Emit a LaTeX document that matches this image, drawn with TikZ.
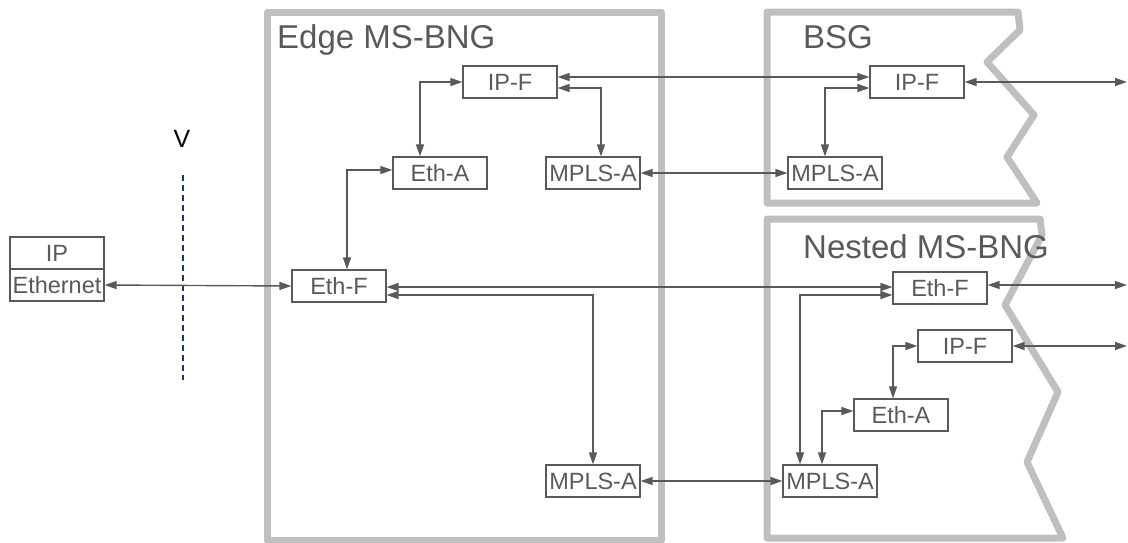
\documentclass[tikz,border=0pt]{standalone}
\usepackage{fontspec}
\setmainfont{Liberation Sans}
\usetikzlibrary{arrows.meta, calc}
\definecolor{textgray}{RGB}{89,89,89}
\definecolor{zonegray}{RGB}{191,191,191}
\definecolor{vlineblue}{RGB}{31,56,100}

\begin{document}
\begin{tikzpicture}[x=1pt, y=-1pt,
  block/.style={draw=textgray, line width=1.2pt, text=textgray, minimum width=94pt,
    minimum height=32pt, inner sep=0pt, font=\fontsize{23.5}{28}\selectfont},
  link/.style={textgray, line width=1.4pt,
    {Triangle[length=12pt,width=8pt]}-{Triangle[length=12pt,width=8pt]}},
  zonebox/.style={zonegray, line width=7pt, line join=round},
  zonetitle/.style={anchor=base west, inner sep=0pt, text=textgray,
    font=\fontsize{33}{39}\selectfont}]
  \useasboundingbox (0,0) rectangle (1128,542);

  % Rahmen der Bereiche
  \draw[zonebox] (267,12) rectangle (661,540);
  \draw[zonebox] (767,12) -- (1018,12) -- (1020,30) -- (987,62) -- (1034,115)
    -- (1007,157) -- (1037,203) -- (767,203) -- cycle;
  \draw[zonebox] (767,219) -- (1040,219) -- (1042,235) -- (1005,305) -- (1058,392)
    -- (1027,462) -- (1063,538) -- (767,538) -- cycle;

  % Titel
  \node[zonetitle] (edgetitle) at (277,48) {Edge MS-BNG};
  \node[zonetitle] (bsgtitle) at (803,48) {BSG};
  \node[zonetitle] (nestedtitle) at (803,258) {Nested MS-BNG};

  % Schnittstelle V
  \node[anchor=base, inner sep=0pt, font=\fontsize{25}{30}\selectfont] (vlabel) at (182,147) {V};
  \coordinate (vtop) at (183,175);
  \coordinate (vbot) at (183,380);
  \draw[vlineblue, line width=1.4pt, dash pattern=on 6pt off 4pt] (vtop) -- (vbot);

  % Endgeraet
  \node[block] (ip) at (57,253) {IP};
  \node[block] (eth) at (57,285) {Ethernet};

  % Edge MS-BNG
  \node[block] (edgeipf) at (510,82) {IP-F};
  \node[block] (edgetha) at (440,173) {Eth-A};
  \node[block] (edgempls) at (593,173) {MPLS-A};
  \node[block] (edgethf) at (339,286) {Eth-F};
  \node[block] (edgemplsb) at (593,481) {MPLS-A};

  % BSG
  \node[block] (bsgipf) at (917,82) {IP-F};
  \node[block] (bsgmpls) at (835,173) {MPLS-A};
  \coordinate (bsgout) at (1127,82);

  % Nested MS-BNG
  \node[block] (nethf) at (940,288) {Eth-F};
  \node[block] (nipf) at (965,346) {IP-F};
  \node[block] (netha) at (901,415) {Eth-A};
  \node[block] (nmpls) at (830,481) {MPLS-A};
  \coordinate (nethout) at (1127,285);
  \coordinate (nipout) at (1127,346);

  % Verbindungen
  \draw[link] (eth.east) -- (edgethf.west);
  \draw[link] ([xshift=8pt]edgethf.north) |- ([yshift=3pt]edgetha.west);
  \draw[link] ([xshift=-20pt]edgetha.north) |- (edgeipf.west);
  \draw[link] ([yshift=-6pt]edgeipf.east) -| ([xshift=8pt]edgempls.north);
  \draw[link] ([yshift=5pt]edgeipf.east) -- ([yshift=5pt]bsgipf.west);
  \draw[link] (edgempls.east) -- (bsgmpls.west);
  \draw[link] ([xshift=-10pt]bsgmpls.north) |- ([yshift=-6pt]bsgipf.west);
  \draw[link] (bsgipf.east) -- (bsgout);
  \draw[link] ([yshift=-1pt]edgethf.east) -- ([yshift=1pt]nethf.west);
  \draw[link] ([yshift=-9pt]edgethf.east) -| (edgemplsb.north);
  \draw[link] (edgemplsb.east) -- (nmpls.west);
  \draw[link] ([xshift=-30pt]nmpls.north) |- ([yshift=-7pt]nethf.west);
  \draw[link] ([yshift=3pt]nethf.east) -- (nethout);
  \draw[link] ([xshift=-8pt]netha.north) |- (nipf.west);
  \draw[link] (nipf.east) -- (nipout);
  \draw[link] ([xshift=-8pt]nmpls.north) |- ([yshift=4pt]netha.west);
\end{tikzpicture}
\end{document}
